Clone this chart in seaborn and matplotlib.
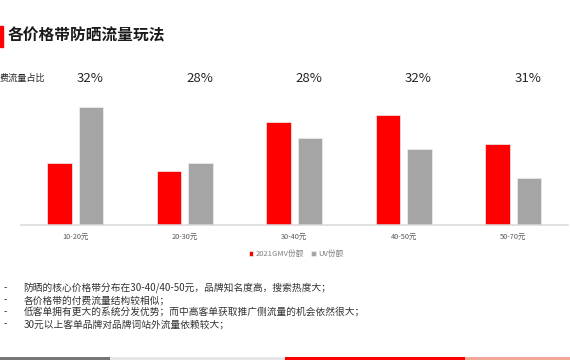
import matplotlib
matplotlib.use("Agg")
import matplotlib.pyplot as plt
import matplotlib.patches as mpatches
import matplotlib.transforms as mtrans
import seaborn as sns
import pandas as pd

categories = ["10-20元", "20-30元", "30-40元", "40-50元", "50-70元"]
gmv_share = [12.5, 10.8, 20.6, 22.0, 16.3]
uv_share = [23.7, 12.5, 17.4, 15.3, 9.4]
paid_ratio = ["32%", "28%", "28%", "32%", "31%"]
series_names = ["2021GMV份额", "UV份额"]
title = "各价格带防晒流量玩法"
ratio_label = "费流量占比"
notes = [
    "防晒的核心价格带分布在30-40/40-50元，品牌知名度高，搜索热度大；",
    "各价格带的付费流量结构较相似；",
    "低客单拥有更大的系统分发优势；而中高客单获取推广侧流量的机会依然很大；",
    "30元以上客单品牌对品牌词站外流量依赖较大；",
]

sns.set_theme(style="white")
plt.rcParams["font.family"] = ["Noto Sans CJK SC", "DejaVu Sans"]

df = pd.DataFrame({
    "category": categories * 2,
    "value": gmv_share + uv_share,
    "series": [series_names[0]] * len(categories) + [series_names[1]] * len(categories),
})

W, H = 570, 360
fig = plt.figure(figsize=(W / 100, H / 100), dpi=100)
ax = fig.add_axes([20.5 / W, 1 - 225 / H, 547.5 / W, 125 / H])

sns.barplot(data=df, x="category", y="value", hue="series", order=categories,
            hue_order=series_names, palette=["#ff0000", "#a5a5a5"],
            saturation=1, width=0.574, gap=0.22, ax=ax,
            edgecolor="#f0f0f0", linewidth=0.5)

ax.set_xlim(-0.5, len(categories) - 0.5)
ax.set_ylim(0, 25)
ax.set_xlabel("")
ax.set_ylabel("")
ax.set_yticks([])
for s in ["top", "right", "left"]:
    ax.spines[s].set_visible(False)
ax.spines["bottom"].set_color("#d9d9d9")
ax.spines["bottom"].set_linewidth(1.1)
ax.tick_params(axis="x", length=0, pad=6, labelsize=5.3, labelcolor="#595959")

leg = ax.legend(loc="center", bbox_to_anchor=(296 / W, 1 - 254 / H),
                bbox_transform=fig.transFigure, ncol=2, frameon=False,
                fontsize=5.5, handlelength=0.6, handleheight=0.6,
                handletextpad=0.3, columnspacing=1.0, labelcolor="#7f7f7f")

# paid traffic ratio labels above each group
blend = mtrans.blended_transform_factory(ax.transData, fig.transFigure)
for i, lab in enumerate(paid_ratio):
    ax.text(i + 0.135, 1 - 79 / H, lab, transform=blend, ha="center", va="center",
            fontsize=9.5, color="#262626")

fig.text(0 / W, 1 - 78 / H, ratio_label, ha="left", va="center", fontsize=6.6, color="#262626")

# title with red accent bar
fig.patches.append(mpatches.Rectangle((0, 1 - 47 / H), 3 / W, 21 / H,
                                      transform=fig.transFigure, color="#ff0000"))
fig.text(8 / W, 1 - 36 / H, title, ha="left", va="center", fontsize=11.3,
         fontweight="bold", color="#1a1a1a")

# notes
ys = [288, 300, 312, 324]
for y, t in zip(ys, notes):
    fig.text(4 / W, 1 - y / H, "-", ha="left", va="center", fontsize=7, color="#333333")
    fig.text(23.5 / W, 1 - y / H, t, ha="left", va="center", fontsize=7.0, color="#333333")

# bottom decorative strip
segs = [(0, 110, "#767676"), (110, 285, "#e6e6e6"), (285, 465, "#ff0000"), (465, 570, "#f4a89a")]
for x0, x1, c in segs:
    fig.patches.append(mpatches.Rectangle((x0 / W, 0), (x1 - x0) / W, 3.3 / H,
                                          transform=fig.transFigure, color=c, lw=0))

fig.savefig("out.png", dpi=100)
